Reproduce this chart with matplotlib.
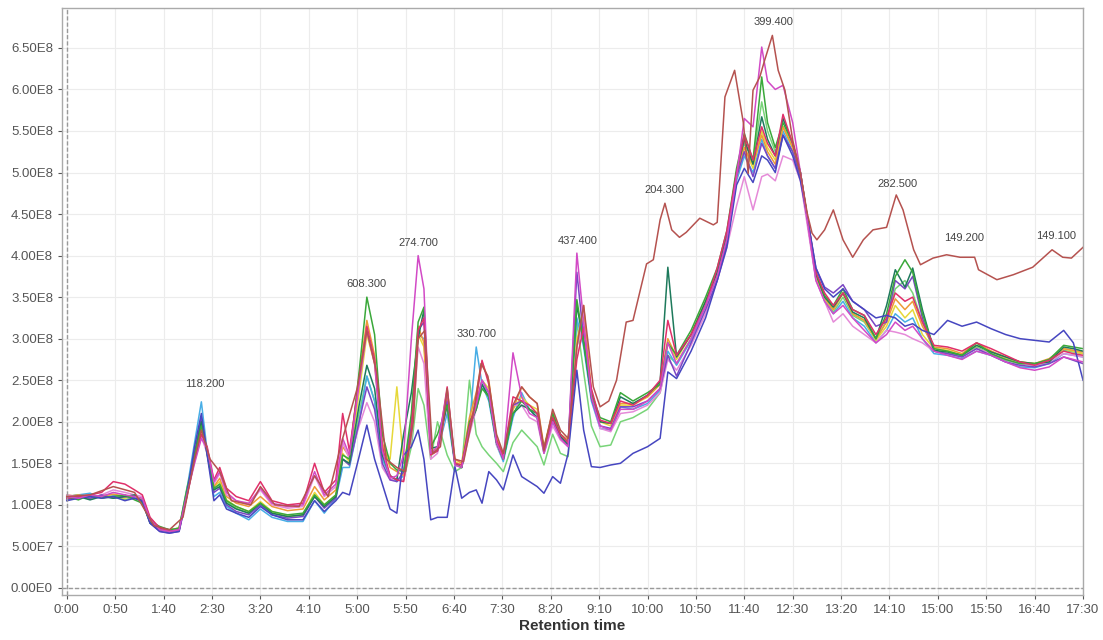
import numpy as np
import matplotlib.pyplot as plt
from matplotlib.ticker import FuncFormatter, MultipleLocator

plt.rcParams['font.family'] = ['Liberation Sans', 'DejaVu Sans']

# retention time grid (s) shared by the sample traces
TIME = [0, 12, 24, 36, 48, 60, 70, 78, 86, 96, 106, 116,
        124, 132, 139, 145, 152, 158, 165, 175, 188, 200, 212, 228,
        244, 256, 266, 278, 285, 292, 302, 310, 318, 326, 334, 341,
        348, 356, 363, 369, 376, 383, 393, 401, 408, 416, 423, 429,
        436, 444, 451, 461, 470, 478, 486, 493, 502, 510, 518, 527,
        534, 542, 551, 562, 572, 585, 600, 613, 621, 630, 645, 660,
        672, 682, 692, 700, 709, 718, 724, 732, 740, 750, 758, 766,
        774, 783, 792, 802, 812, 824, 836, 847, 856, 866, 874, 884,
        896, 910, 925, 940, 955, 970, 985, 1000, 1015, 1030, 1040, 1050]

# intensities, x1e8
orange = [1.10, 1.12, 1.09, 1.11, 1.13, 1.10, 1.11, 1.05, 0.80, 0.72, 0.69, 0.71,
          1.15, 1.62, 2.02, 1.66, 1.22, 1.32, 1.10, 1.02, 0.98, 1.10, 0.98, 0.93,
          0.95, 1.22, 1.06, 1.18, 1.70, 1.58, 2.55, 3.22, 2.80, 1.75, 1.45, 1.40,
          1.35, 2.00, 3.15, 2.95, 1.62, 1.70, 2.30, 1.55, 1.50, 2.05, 2.35, 2.72,
          2.50, 1.80, 1.60, 2.15, 2.42, 2.30, 2.22, 1.70, 2.12, 1.85, 1.78, 2.90,
          3.40, 2.35, 2.00, 1.98, 2.22, 2.22, 2.30, 2.45, 3.00, 2.78, 3.05, 3.45,
          3.80, 4.25, 4.95, 5.30, 5.10, 5.45, 5.25, 5.10, 5.55, 5.30, 4.95, 4.35,
          3.75, 3.50, 3.35, 3.55, 3.30, 3.22, 3.00, 3.20, 3.48, 3.35, 3.45, 3.15,
          2.90, 2.88, 2.82, 2.95, 2.85, 2.78, 2.72, 2.70, 2.76, 2.88, 2.86, 2.84]

red = [1.08, 1.10, 1.12, 1.15, 1.28, 1.25, 1.18, 1.12, 0.85, 0.72, 0.68, 0.70,
       1.10, 1.55, 1.85, 1.70, 1.30, 1.45, 1.20, 1.10, 1.05, 1.28, 1.05, 1.00,
       1.02, 1.50, 1.15, 1.30, 2.10, 1.65, 2.50, 3.15, 2.75, 1.70, 1.35, 1.30,
       1.28, 1.90, 3.10, 3.25, 1.60, 1.65, 2.42, 1.50, 1.48, 1.95, 2.25, 2.74,
       2.45, 1.78, 1.58, 2.30, 2.25, 2.20, 2.10, 1.68, 2.05, 1.85, 1.75, 2.75,
       3.14, 2.40, 2.02, 1.98, 2.25, 2.20, 2.32, 2.50, 3.22, 2.80, 3.05, 3.40,
       3.85, 4.30, 5.00, 5.45, 5.15, 5.55, 5.35, 5.20, 5.70, 5.35, 5.00, 4.40,
       3.80, 3.55, 3.40, 3.55, 3.35, 3.28, 3.05, 3.25, 3.55, 3.45, 3.50, 3.20,
       2.92, 2.90, 2.85, 2.95, 2.88, 2.80, 2.72, 2.68, 2.74, 2.85, 2.82, 2.80]

magenta = [1.10, 1.08, 1.12, 1.10, 1.15, 1.12, 1.10, 1.08, 0.82, 0.70, 0.68, 0.70,
           1.12, 1.50, 1.80, 1.68, 1.28, 1.40, 1.15, 1.05, 1.02, 1.20, 1.02, 0.98,
           1.00, 1.40, 1.12, 1.25, 1.80, 1.60, 2.45, 3.10, 2.70, 1.65, 1.32, 1.35,
           1.60, 3.00, 4.00, 3.60, 1.62, 1.70, 2.38, 1.48, 1.45, 1.90, 2.20, 2.50,
           2.35, 1.75, 1.55, 2.83, 2.30, 2.10, 2.05, 1.62, 2.00, 1.80, 1.70, 4.03,
           3.20, 2.30, 1.95, 1.90, 2.15, 2.15, 2.25, 2.40, 2.95, 2.70, 3.00, 3.40,
           3.75, 4.20, 4.95, 5.65, 5.55, 6.51, 6.10, 6.00, 6.05, 5.60, 5.00, 4.35,
           3.70, 3.45, 3.30, 3.40, 3.25, 3.10, 2.95, 3.05, 3.20, 3.10, 3.15, 3.00,
           2.85, 2.80, 2.75, 2.85, 2.80, 2.72, 2.65, 2.62, 2.66, 2.78, 2.75, 2.72]

pink = [1.12, 1.10, 1.08, 1.12, 1.18, 1.15, 1.12, 1.10, 0.84, 0.72, 0.70, 0.71,
        1.12, 1.52, 1.82, 1.62, 1.25, 1.38, 1.12, 1.05, 1.00, 1.18, 1.00, 0.96,
        0.98, 1.35, 1.10, 1.22, 1.75, 1.55, 1.95, 2.23, 2.00, 1.45, 1.30, 1.32,
        1.30, 1.80, 2.90, 2.70, 1.55, 1.62, 2.20, 1.48, 1.45, 1.85, 2.15, 2.45,
        2.35, 1.72, 1.55, 2.20, 2.20, 2.05, 2.00, 1.62, 1.95, 1.78, 1.70, 2.90,
        3.20, 2.30, 1.92, 1.88, 2.10, 2.12, 2.20, 2.35, 2.75, 2.62, 2.92, 3.30,
        3.70, 4.10, 4.60, 4.95, 4.55, 4.95, 4.98, 4.90, 5.20, 5.15, 4.90, 4.30,
        3.70, 3.45, 3.20, 3.30, 3.15, 3.05, 2.95, 3.10, 3.08, 3.05, 3.00, 2.95,
        2.85, 2.82, 2.78, 2.88, 2.82, 2.75, 2.70, 2.68, 2.72, 2.82, 2.80, 2.78]

blue = [1.05, 1.08, 1.10, 1.08, 1.10, 1.05, 1.08, 1.05, 0.78, 0.68, 0.66, 0.68,
        1.12, 1.70, 2.10, 1.60, 1.05, 1.12, 0.95, 0.90, 0.85, 0.98, 0.88, 0.82,
        0.82, 1.05, 0.92, 1.05, 1.15, 1.12, 1.58, 1.96, 1.55, 1.25, 0.95, 0.90,
        1.60, 1.70, 1.90, 1.55, 0.82, 0.85, 0.85, 1.46, 1.08, 1.15, 1.18, 1.02,
        1.40, 1.30, 1.18, 1.60, 1.34, 1.28, 1.22, 1.14, 1.34, 1.26, 1.62, 2.62,
        1.90, 1.46, 1.45, 1.48, 1.50, 1.62, 1.70, 1.80, 2.60, 2.52, 2.85, 3.25,
        3.70, 4.10, 4.85, 5.05, 4.88, 5.20, 5.15, 5.00, 5.45, 5.20, 4.90, 4.40,
        3.85, 3.60, 3.50, 3.60, 3.45, 3.35, 3.25, 3.28, 3.25, 3.15, 3.18, 3.10,
        3.05, 3.22, 3.15, 3.20, 3.12, 3.05, 3.00, 2.98, 2.96, 3.10, 2.95, 2.50]

green = [1.10, 1.06, 1.12, 1.08, 1.10, 1.12, 1.06, 1.02, 0.80, 0.74, 0.70, 0.72,
         1.18, 1.60, 1.95, 1.65, 1.20, 1.25, 1.05, 0.98, 0.92, 1.02, 0.92, 0.88,
         0.90, 1.12, 1.00, 1.12, 1.60, 1.55, 2.60, 3.50, 3.05, 1.85, 1.50, 1.42,
         1.40, 2.10, 3.20, 3.38, 1.70, 1.85, 2.20, 1.50, 1.45, 2.00, 2.15, 2.40,
         2.30, 1.75, 1.55, 2.10, 2.25, 2.15, 2.10, 1.68, 2.10, 1.85, 1.75, 3.47,
         2.95, 2.35, 2.05, 2.00, 2.35, 2.25, 2.35, 2.45, 2.95, 2.80, 3.10, 3.50,
         3.85, 4.30, 5.05, 5.47, 5.15, 6.15, 5.60, 5.30, 5.60, 5.35, 5.00, 4.40,
         3.80, 3.52, 3.40, 3.60, 3.35, 3.28, 3.00, 3.30, 3.75, 3.95, 3.80, 3.30,
         2.88, 2.85, 2.80, 2.95, 2.82, 2.75, 2.70, 2.70, 2.75, 2.92, 2.90, 2.88]

dkgreen = [1.08, 1.10, 1.06, 1.10, 1.08, 1.10, 1.12, 1.04, 0.78, 0.70, 0.68, 0.70,
           1.15, 1.60, 2.00, 1.62, 1.18, 1.22, 1.02, 0.95, 0.90, 1.02, 0.90, 0.86,
           0.88, 1.10, 0.98, 1.10, 1.55, 1.50, 2.20, 2.68, 2.40, 1.60, 1.35, 1.30,
           1.85, 2.35, 3.00, 3.35, 1.68, 1.70, 2.20, 1.50, 1.45, 1.95, 2.15, 2.45,
           2.30, 1.75, 1.55, 2.10, 2.20, 2.15, 2.05, 1.65, 2.05, 1.82, 1.72, 3.40,
           2.95, 2.30, 2.00, 1.98, 2.30, 2.22, 2.32, 2.48, 3.86, 2.78, 3.05, 3.45,
           3.80, 4.25, 5.00, 5.40, 5.10, 5.67, 5.40, 5.20, 5.65, 5.35, 5.00, 4.40,
           3.78, 3.50, 3.38, 3.55, 3.32, 3.25, 3.00, 3.40, 3.83, 3.62, 3.85, 3.35,
           2.86, 2.84, 2.80, 2.92, 2.84, 2.78, 2.72, 2.70, 2.72, 2.90, 2.88, 2.85]

ltgreen = [1.10, 1.12, 1.08, 1.10, 1.12, 1.06, 1.10, 1.06, 0.82, 0.72, 0.70, 0.72,
           1.20, 1.60, 1.95, 1.60, 1.18, 1.25, 1.04, 0.96, 0.90, 1.02, 0.90, 0.86,
           0.88, 1.12, 1.00, 1.10, 1.55, 1.48, 2.10, 2.55, 2.25, 1.55, 1.35, 1.30,
           1.30, 1.70, 2.40, 2.20, 1.55, 2.00, 1.60, 1.40, 1.45, 2.50, 1.85, 1.70,
           1.60, 1.50, 1.40, 1.75, 1.90, 1.80, 1.70, 1.48, 1.85, 1.62, 1.58, 3.20,
           2.60, 1.95, 1.70, 1.72, 2.00, 2.05, 2.15, 2.35, 2.80, 2.70, 3.00, 3.40,
           3.80, 4.25, 5.00, 5.35, 5.15, 5.85, 5.50, 5.25, 5.55, 5.30, 4.95, 4.35,
           3.72, 3.48, 3.32, 3.50, 3.28, 3.20, 2.98, 3.22, 3.60, 3.70, 3.55, 3.20,
           2.85, 2.82, 2.80, 2.90, 2.82, 2.74, 2.70, 2.68, 2.72, 2.86, 2.84, 2.82]

yellow = [1.12, 1.10, 1.08, 1.12, 1.10, 1.08, 1.12, 1.06, 0.82, 0.72, 0.70, 0.72,
          1.12, 1.58, 1.95, 1.65, 1.22, 1.28, 1.06, 0.98, 0.92, 1.04, 0.92, 0.86,
          0.88, 1.15, 1.00, 1.12, 1.62, 1.52, 2.35, 3.05, 2.70, 1.70, 1.55, 2.42,
          1.50, 1.95, 3.05, 2.90, 1.60, 1.65, 2.25, 1.52, 1.48, 2.00, 2.25, 2.50,
          2.40, 1.78, 1.58, 2.15, 2.30, 2.20, 2.15, 1.68, 2.08, 1.85, 1.75, 3.00,
          3.25, 2.35, 2.00, 1.95, 2.20, 2.20, 2.30, 2.45, 2.95, 2.75, 3.05, 3.45,
          3.80, 4.20, 4.95, 5.30, 5.05, 5.50, 5.30, 5.15, 5.55, 5.30, 4.95, 4.35,
          3.75, 3.48, 3.35, 3.55, 3.30, 3.22, 2.98, 3.15, 3.40, 3.25, 3.35, 3.05,
          2.88, 2.86, 2.80, 2.92, 2.85, 2.76, 2.72, 2.70, 2.74, 2.88, 2.85, 2.82]

cyan = [1.10, 1.12, 1.14, 1.08, 1.12, 1.10, 1.08, 1.04, 0.80, 0.70, 0.68, 0.70,
        1.18, 1.75, 2.24, 1.65, 1.10, 1.15, 0.98, 0.90, 0.82, 0.95, 0.85, 0.80,
        0.80, 1.05, 0.90, 1.08, 1.45, 1.45, 2.00, 2.55, 2.25, 1.55, 1.35, 1.28,
        1.35, 2.00, 3.05, 3.00, 1.60, 1.65, 2.10, 1.48, 1.45, 1.95, 2.90, 2.45,
        2.25, 1.72, 1.52, 2.05, 2.35, 2.15, 2.05, 1.62, 2.00, 1.80, 1.70, 3.25,
        2.90, 2.25, 1.92, 1.90, 2.18, 2.15, 2.22, 2.38, 2.85, 2.68, 2.98, 3.40,
        3.75, 4.15, 4.90, 5.20, 5.00, 5.40, 5.20, 5.05, 5.50, 5.25, 4.95, 4.35,
        3.72, 3.45, 3.30, 3.45, 3.25, 3.15, 2.95, 3.10, 3.30, 3.20, 3.25, 3.00,
        2.82, 2.80, 2.76, 2.85, 2.80, 2.72, 2.66, 2.65, 2.70, 2.82, 2.80, 2.78]

purple = [1.06, 1.10, 1.08, 1.12, 1.08, 1.10, 1.08, 1.04, 0.78, 0.68, 0.66, 0.68,
          1.10, 1.62, 2.05, 1.62, 1.15, 1.20, 1.00, 0.92, 0.88, 1.00, 0.88, 0.84,
          0.86, 1.10, 0.96, 1.08, 1.55, 1.48, 2.00, 2.42, 2.15, 1.50, 1.30, 1.28,
          1.40, 1.95, 3.10, 3.20, 1.62, 1.65, 2.25, 1.50, 1.45, 1.92, 2.20, 2.50,
          2.35, 1.75, 1.55, 2.20, 2.25, 2.15, 2.10, 1.65, 2.05, 1.82, 1.72, 3.80,
          3.00, 2.28, 1.95, 1.92, 2.18, 2.18, 2.25, 2.40, 2.80, 2.55, 2.95, 3.35,
          3.70, 4.15, 4.95, 5.25, 4.95, 5.35, 5.20, 5.05, 5.45, 5.25, 4.95, 4.40,
          3.85, 3.62, 3.55, 3.65, 3.45, 3.35, 3.15, 3.20, 3.70, 3.60, 3.75, 3.25,
          2.85, 2.82, 2.78, 2.88, 2.80, 2.72, 2.68, 2.66, 2.70, 2.78, 2.74, 2.70]

# the odd sample out, sampled on its own times
brown_t = [0, 24, 48, 70, 80, 90, 106, 120, 132, 139,
           148, 158, 170, 190, 200, 215, 240, 256, 270, 285,
           300, 310, 320, 330, 341, 350, 358, 363, 370, 378,
           386, 393, 401, 410, 420, 428, 435, 444, 451, 461,
           470, 478, 486, 493, 502, 510, 518, 527, 534, 544,
           551, 560, 568, 578, 585, 599, 606, 613, 618, 625,
           633, 640, 654, 668, 672, 680, 690, 699, 704, 709,
           716, 721, 729, 735, 742, 750, 758, 765, 770, 775,
           783, 792, 802, 812, 823, 833, 847, 857, 864, 875,
           882, 895, 909, 923, 938, 942, 961, 978, 998, 1018,
           1029, 1038, 1050]
brown = [1.10, 1.12, 1.22, 1.15, 0.95, 0.75, 0.70, 0.85, 1.55, 1.90,
         1.55, 1.40, 1.05, 1.00, 1.22, 1.00, 0.98, 1.35, 1.10, 1.80,
         2.40, 3.10, 2.60, 1.55, 1.45, 1.40, 2.00, 3.00, 3.10, 1.62,
         1.70, 2.40, 1.55, 1.52, 2.10, 2.70, 2.55, 1.85, 1.62, 2.20,
         2.42, 2.30, 2.22, 1.65, 2.15, 1.90, 1.80, 2.90, 3.40, 2.42,
         2.18, 2.25, 2.50, 3.20, 3.22, 3.90, 3.95, 4.43, 4.63, 4.31,
         4.22, 4.28, 4.45, 4.37, 4.40, 5.91, 6.23, 5.60, 4.99, 5.99,
         6.15, 6.35, 6.65, 6.23, 5.99, 5.39, 4.99, 4.51, 4.27, 4.19,
         4.31, 4.55, 4.19, 3.98, 4.19, 4.31, 4.34, 4.73, 4.55, 4.07,
         3.89, 3.97, 4.01, 3.98, 3.98, 3.83, 3.71, 3.77, 3.86, 4.07,
         3.98, 3.97, 4.10]

peak_labels = ['118.200', '608.300', '274.700', '330.700', '437.400',
               '204.300', '399.400', '282.500', '149.200', '149.100']
peak_t = [143, 310, 363, 423, 528, 617, 730, 858, 927, 1022]
peak_y = [2.45, 3.66, 4.15, 3.06, 4.18, 4.79, 6.81, 4.86, 4.21, 4.24]

traces = [
    (ltgreen, '#78d478'), (cyan, '#48aee6'), (yellow, '#e6d83a'),
    (orange, '#ee9a38'), (pink, '#e58ad8'), (purple, '#7a46c4'),
    (dkgreen, '#1e7a5c'), (green, '#3aa83a'), (red, '#e0306a'),
    (blue, '#4646c0'), (magenta, '#d24ac6'),
]

fig = plt.figure(figsize=(11.03, 6.4), dpi=100)
ax = fig.add_axes([0.0562, 0.0703, 0.9257, 0.9172])

t = np.array(TIME)
for vals, col in traces:
    ax.plot(t, np.array(vals) * 1e8, color=col, lw=1.1)
ax.plot(brown_t, np.array(brown) * 1e8, color='#b5524f', lw=1.1)

for lab, x, y in zip(peak_labels, peak_t, peak_y):
    ax.text(x, y * 1e8, lab, ha='center', va='center', fontsize=8, color='#444444')

ax.set_xlim(-5, 1050)
ax.set_ylim(-0.085e8, 6.98e8)
ax.xaxis.set_major_locator(MultipleLocator(50))
ax.yaxis.set_major_locator(MultipleLocator(0.5e8))


def fmt_time(v, pos):
    s = int(round(v))
    return f'{s // 60}:{s % 60:02d}'


def fmt_sci(v, pos):
    if v <= 0:
        return '0.00E0'
    e = int(np.floor(np.log10(v) + 1e-9))
    return f'{v / 10 ** e:.2f}E{e}'


ax.xaxis.set_major_formatter(FuncFormatter(fmt_time))
ax.yaxis.set_major_formatter(FuncFormatter(fmt_sci))
ax.tick_params(labelsize=9.5, colors='#555555', length=3, width=0.8)

ax.grid(True, color='#ececec', lw=0.8)
ax.set_axisbelow(True)
ax.axhline(0, color='#999999', lw=1.0, ls=(0, (3, 1.5)))
ax.axvline(0, color='#999999', lw=1.0, ls=(0, (3, 1.5)))
for sp in ax.spines.values():
    sp.set_color('#aaaaaa')
    sp.set_linewidth(1.0)

ax.set_xlabel('Retention time', fontsize=11, fontweight='bold', color='#333333', labelpad=2)

fig.savefig('out.png', dpi=100)
